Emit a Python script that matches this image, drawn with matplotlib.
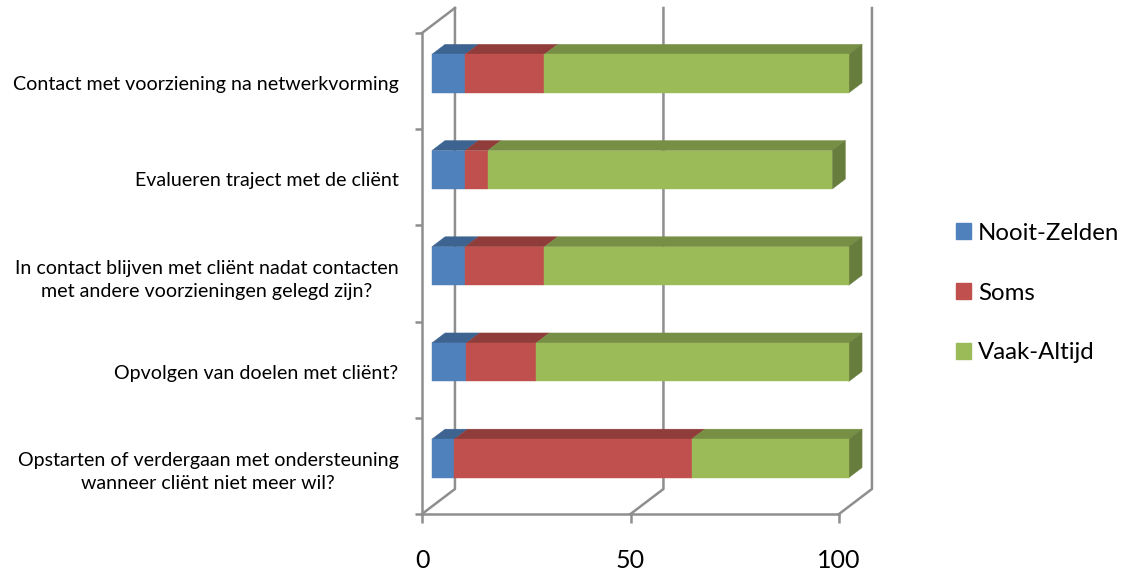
import matplotlib
matplotlib.use('Agg')
import matplotlib.pyplot as plt
from matplotlib.patches import Patch

plt.rcParams['font.family'] = ['Lato', 'DejaVu Sans']

# Datos
categorias = [
    'Opstarten of verdergaan met ondersteuning\nwanneer cliënt niet meer wil?',
    'Opvolgen van doelen met cliënt?',
    'In contact blijven met cliënt nadat contacten\nmet andere voorzieningen gelegd zijn?',
    'Evalueren traject met de cliënt',
    'Contact met voorziening na netwerkvorming',
]
nooit_zelden = [5.4, 8.3, 8.0, 8.0, 8.0]
soms = [56.9, 16.7, 19.0, 5.4, 19.0]
vaak_altijd = [37.7, 75.0, 73.0, 82.6, 73.0]
series = ['Nooit-Zelden', 'Soms', 'Vaak-Altijd']
ticks_x = [0, 50, 100]

# Colores: frente, cara superior, cara lateral
frente = ['#4F81BD', '#C0504D', '#9BBB59']
arriba = ['#3D6491', '#8F3C3A', '#778F45']
lado = ['#3A5E8A', '#893A38', '#677D3D']
gris = '#8E8E8E'

# Profundidad del dibujo 3D en unidades de los ejes
FONDO_X = 7.9
FONDO_Y = 0.26
PROF_INI = 0.3
PROF_FIN = 0.7
ALTO_BARRA = 0.4


def proy(x, y, prof):
    return x + prof * FONDO_X, y + prof * FONDO_Y


def cara(ax, puntos, color, z=3):
    xs = [p[0] for p in puntos]
    ys = [p[1] for p in puntos]
    ax.fill(xs, ys, color=color, lw=0.3, zorder=z, clip_on=False)


fig = plt.figure(figsize=(11.23, 5.76), dpi=100)
ax = fig.add_axes([422 / 1123, (576 - 514) / 576, 417 / 1123, 481 / 576])
ax.set_xlim(0, 100)
ax.set_ylim(0, 5)
ax.patch.set_visible(False)

# Paredes y suelo
for t in ticks_x:
    x0, y0 = proy(t, 0, 0)
    x1, y1 = proy(t, 0, 1)
    x2, y2 = proy(t, 5, 1)
    ax.plot([x0, x1, x2], [y0, y1, y2], color=gris, lw=1.8, zorder=1, clip_on=False)
x1, y1 = proy(0, 5, 1)
ax.plot([0, x1], [5, y1], color=gris, lw=1.8, zorder=1, clip_on=False)

# Barras apiladas
for i in range(len(categorias)):
    inferior = i + 0.5 - ALTO_BARRA / 2
    superior = i + 0.5 + ALTO_BARRA / 2
    acumulado = 0
    valores = [nooit_zelden[i], soms[i], vaak_altijd[i]]
    for j, v in enumerate(valores):
        ini = acumulado
        fin = acumulado + v
        cara(ax, [proy(ini, superior, PROF_INI), proy(fin, superior, PROF_INI),
                  proy(fin, superior, PROF_FIN), proy(ini, superior, PROF_FIN)], arriba[j])
        cara(ax, [proy(ini, inferior, PROF_INI), proy(fin, inferior, PROF_INI),
                  proy(fin, superior, PROF_INI), proy(ini, superior, PROF_INI)], frente[j], z=4)
        acumulado = fin
    cara(ax, [proy(acumulado, inferior, PROF_INI), proy(acumulado, inferior, PROF_FIN),
              proy(acumulado, superior, PROF_FIN), proy(acumulado, superior, PROF_INI)], lado[2])

# Ejes
for s in ['top', 'right']:
    ax.spines[s].set_visible(False)
for s in ['left', 'bottom']:
    ax.spines[s].set_color(gris)
    ax.spines[s].set_linewidth(1.8)

ax.set_xticks(ticks_x)
ax.set_xticklabels([str(t) for t in ticks_x], fontsize=18, color='black')
ax.tick_params(axis='x', length=6.5, width=1.8, color=gris, pad=19)

ax.set_yticks(range(6))
ax.set_yticklabels([])
ax.tick_params(axis='y', which='major', length=5, width=1.8, color=gris)
# Las etiquetas quedan un poco por debajo del centro de cada banda
ax.set_yticks([i + 0.48 for i in range(5)], minor=True)
ax.set_yticklabels(categorias, minor=True, fontsize=14.1, color='black',
                   multialignment='center', linespacing=1.4)
ax.tick_params(axis='y', which='minor', length=0, pad=17)

# Leyenda
manejadores = [Patch(color=c, label=n) for c, n in zip(frente, series)]
fig.legend(handles=manejadores, loc='center left', bbox_to_anchor=(956 / 1123, 1 - 293 / 576),
           frameon=False, fontsize=17.3, handlelength=0.62, handleheight=0.62,
           handletextpad=0.3, labelspacing=1.62, borderpad=0, borderaxespad=0)

fig.savefig('out.png', dpi=100)
